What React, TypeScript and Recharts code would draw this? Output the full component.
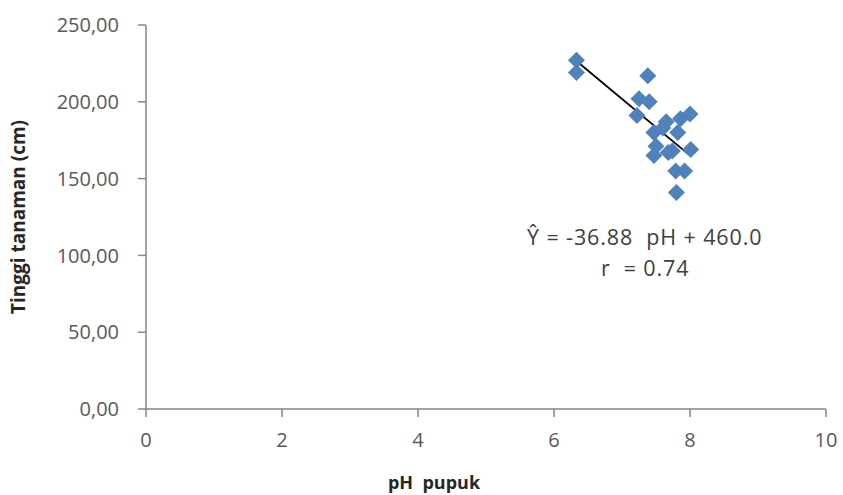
import React from "react";
import {
  ScatterChart,
  Scatter,
  XAxis,
  YAxis,
  ReferenceLine,
  Label,
} from "recharts";

const phValues = [6.33, 6.33, 7.38, 7.25, 7.4, 7.22, 7.65, 7.86, 8.0, 7.47, 7.82, 7.5, 7.47, 7.68, 7.74, 8.01, 7.79, 7.92, 7.8, 7.6];
const heightValues = [227, 219, 217, 202, 200, 191, 187, 189, 192, 180, 180, 171, 165, 167, 168, 169, 155, 155, 141, 183];
const xTicks = [0, 2, 4, 6, 8, 10];
const yTicks = [0, 50, 100, 150, 200, 250];
const slope = -36.88;
const intercept = 460.0;
const fitRange = [6.33, 7.97];

const points = phValues.map((x, i) => ({ x, y: heightValues[i] }));

const FONT = "'Open Sans', sans-serif";

const Diamond = (props: any) => {
  const { cx, cy } = props;
  if (cx == null || cy == null) return null;
  const r = 8.5;
  return (
    <polygon
      points={`${cx},${cy - r} ${cx + r},${cy} ${cx},${cy + r} ${cx - r},${cy}`}
      fill="#4F81BD"
    />
  );
};

const fmtY = (v: number) => v.toFixed(2).replace(".", ",");

export default function App() {
  return (
    <div style={{ position: "absolute", left: 0, top: 0, width: 843, height: 495, background: "#fff" }}>
      <ScatterChart
        width={843}
        height={495}
        margin={{ top: 25, right: 17, bottom: 0, left: 6 }}
      >
        <XAxis
          type="number"
          dataKey="x"
          domain={[0, 10]}
          ticks={xTicks}
          axisLine={{ stroke: "#868686", strokeWidth: 1.5 }}
          tickLine={{ stroke: "#868686", strokeWidth: 1.5 }}
          tickSize={8}
          tickMargin={16}
          height={86}
          tick={{ fill: "#595959", fontSize: 20, fontFamily: FONT }}
        >
          <Label
            value={"pH\u00a0 pupuk"}
            position="insideBottom"
            offset={6}
            dx={-52}
            style={{ fill: "#262626", fontSize: 18, fontWeight: 700, fontFamily: FONT }}
          />
        </XAxis>
        <YAxis
          type="number"
          dataKey="y"
          domain={[0, 250]}
          ticks={yTicks}
          tickFormatter={fmtY}
          axisLine={{ stroke: "#868686", strokeWidth: 1.5 }}
          tickLine={{ stroke: "#868686", strokeWidth: 1.5 }}
          tickSize={8}
          tickMargin={19}
          width={140}
          tick={{ fill: "#595959", fontSize: 20, fontFamily: FONT }}
        >
          <Label
            value="Tinggi tanaman (cm)"
            angle={-90}
            position="insideLeft"
            offset={12}
            style={{ textAnchor: "middle", fill: "#262626", fontSize: 19, fontWeight: 700, fontFamily: FONT }}
          />
        </YAxis>
        <Scatter data={points} shape={<Diamond />} isAnimationActive={false} />
        <ReferenceLine
          segment={[
            { x: fitRange[0], y: slope * fitRange[0] + intercept },
            { x: fitRange[1], y: slope * fitRange[1] + intercept },
          ]}
          stroke="#000"
          strokeWidth={1.8}
        />
      </ScatterChart>
      <div
        style={{
          position: "absolute",
          left: 0,
          top: 221,
          width: 843,
          fontFamily: FONT,
          fontSize: 21.5,
          letterSpacing: "0.9px",
          color: "#404040",
          lineHeight: "31px",
          pointerEvents: "none",
        }}
      >
        <div style={{ position: "absolute", left: 527, top: 0, whiteSpace: "pre" }}>Ŷ = -36.88  pH + 460.0</div>
        <div style={{ position: "absolute", left: 601, top: 31, whiteSpace: "pre" }}>r  = 0.74</div>
      </div>
    </div>
  );
}
